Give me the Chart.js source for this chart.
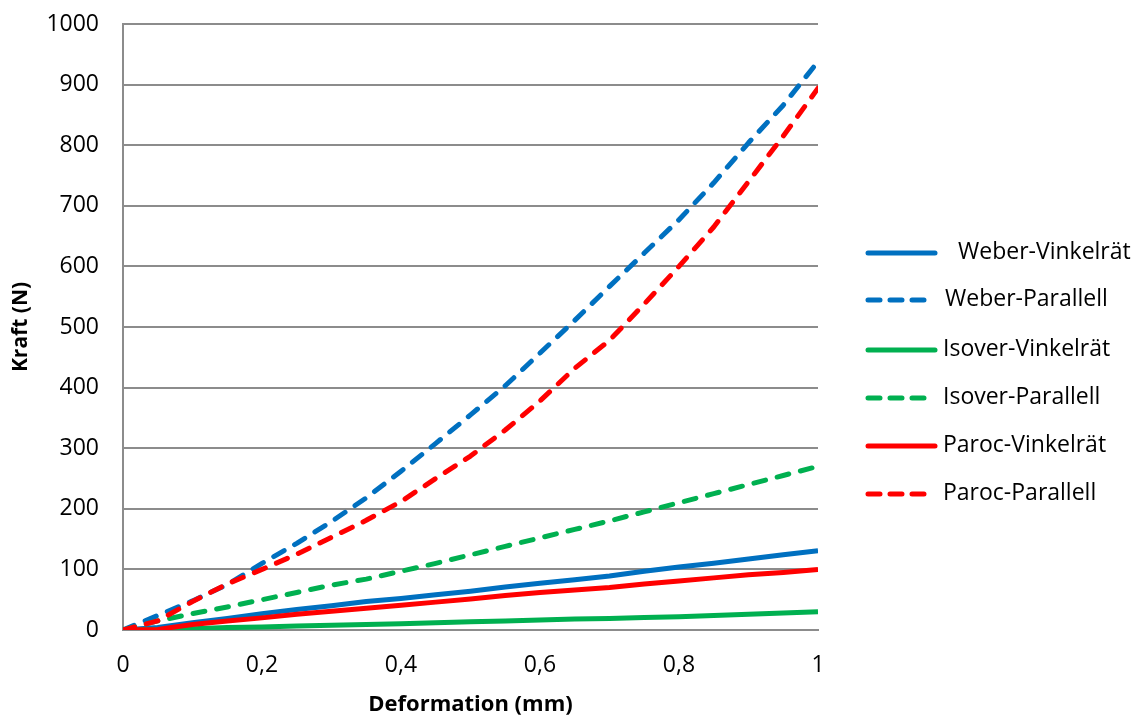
<!DOCTYPE html>
<html>
<head>
<meta charset="utf-8">
<script src="https://cdn.jsdelivr.net/npm/chart.js@4"></script>
<style>
  html, body { margin: 0; padding: 0; background: #fff; }
  #wrap { width: 1142px; height: 716px; }
</style>
</head>
<body>
<div id="wrap"><canvas id="myChart" width="1142" height="716"></canvas></div>
<script>
// deformation (mm)
const deformation = [0, 0.05, 0.1, 0.15, 0.2, 0.25, 0.3, 0.35, 0.4, 0.45, 0.5,
                     0.55, 0.6, 0.65, 0.7, 0.75, 0.8, 0.85, 0.9, 0.95, 1];

// kraft (N)
const weberVinkelrat  = [0, 4, 12, 19, 27, 34, 40, 47, 52, 58, 64, 71, 77, 83, 89, 97, 104, 110, 117, 124, 131];
const weberParallell  = [0, 24, 48, 75, 110, 143, 179, 218, 262, 308, 355, 403, 457, 511, 567, 622, 677, 738, 804, 866, 938];
const isoverVinkelrat = [0, 1, 2, 4, 5, 6.5, 8, 9, 10.5, 12, 13.5, 15, 16.5, 18, 19, 20.5, 22, 24, 26, 28, 30];
const isoverParallell = [0, 15, 27, 38, 50, 62, 74, 84, 97, 110, 124, 138, 152, 166, 180, 195, 210, 225, 240, 255, 270];
const parocVinkelrat  = [0, 1, 9, 15, 20, 26, 31, 36, 41, 46, 51, 57, 62, 66, 70, 76, 81, 86, 91, 95, 100];
const parocParallell  = [0, 15, 47, 76, 100, 125, 153, 181, 212, 250, 287, 330, 378, 432, 478, 538, 600, 665, 740, 815, 894];

const xTicks = [0, 0.2, 0.4, 0.6, 0.8, 1];
const xTickLabels = ['0', '0,2', '0,4', '0,6', '0,8', '1'];

const blue = '#0070C0';
const green = '#00B050';
const red = '#FF0000';
const dash = [12, 12];

function serie(label, ys, color, dashed) {
    return {
        label: label,
        data: deformation.map((x, i) => ({x: x, y: ys[i]})),
        borderColor: color,
        backgroundColor: color,
        borderWidth: 5,
        borderDash: dashed ? dash : [],
        borderCapStyle: dashed ? 'round' : 'butt',
        borderJoinStyle: 'round',
        pointRadius: 0,
        tension: 0,
        fill: false
    };
}

// reihenfolge umgedreht, damit Paroc oben gezeichnet wird (wie in Excel)
const datasets = [
    serie('Paroc-Parallell', parocParallell, red, true),
    serie('Paroc-Vinkelrät', parocVinkelrat, red, false),
    serie('Isover-Parallell', isoverParallell, green, true),
    serie('Isover-Vinkelrät', isoverVinkelrat, green, false),
    serie('Weber-Parallell', weberParallell, blue, true),
    serie('Weber-Vinkelrät', weberVinkelrat, blue, false)
];

const fontFam = '"Open Sans", Lato, sans-serif';
const gridCol = '#8c8c8c';

// legende selbst zeichnen (Excel-Stil, gestrichelte Linien)
const legendPos = [
    {y: 253, tx: 958}, {y: 300, tx: 945}, {y: 350, tx: 943},
    {y: 398, tx: 943}, {y: 446, tx: 943}, {y: 494, tx: 943}
];
const excelLegend = {
    id: 'excelLegend',
    afterDraw(chart) {
        const c = chart.ctx;
        const items = chart.data.datasets.slice().reverse();
        c.save();
        items.forEach((ds, i) => {
            const p = legendPos[i];
            const dashed = ds.borderDash.length > 0;
            c.strokeStyle = ds.borderColor;
            c.lineWidth = 5;
            c.lineCap = 'round';
            c.setLineDash(dashed ? [12, 10] : []);
            c.beginPath();
            c.moveTo(868, p.y);
            c.lineTo(dashed ? 925 : 935, p.y);
            c.stroke();
            c.setLineDash([]);
            c.fillStyle = '#000';
            c.font = '23px ' + fontFam;
            c.textBaseline = 'middle';
            c.textAlign = 'left';
            c.fillText(ds.label, p.tx, p.y - 1);
        });
        c.restore();
    }
};

const ctx = document.getElementById('myChart');

const config = {
    type: 'line',
    data: { datasets },
    plugins: [excelLegend],
    options: {
        responsive: false,
        animation: false,
        layout: { padding: { top: 0, right: 324, left: 4, bottom: 0 } },
        plugins: {
            tooltip: { enabled: false },
            legend: { display: false }
        },
        scales: {
            x: {
                type: 'linear',
                min: 0,
                max: 1,
                afterBuildTicks: axis => { axis.ticks = xTicks.map(v => ({value: v})); },
                afterFit: s => { s.height = 86; },
                ticks: {
                    color: '#000',
                    padding: 22,
                    maxRotation: 0,
                    font: { family: fontFam, size: 23 },
                    callback: v => xTickLabels[xTicks.indexOf(v)]
                },
                grid: { display: false, drawTicks: false },
                border: { display: true, color: gridCol, width: 2 },
                title: {
                    display: true,
                    text: 'Deformation (mm)',
                    color: '#000',
                    font: { family: fontFam, size: 22, weight: 'bold', lineHeight: 1 },
                    padding: { top: 0, bottom: 0 }
                }
            },
            y: {
                min: 0,
                max: 1000,
                afterFit: s => { s.width = 119; s.paddingTop = 24; },
                ticks: {
                    stepSize: 100,
                    color: '#000',
                    padding: 24,
                    font: { family: fontFam, size: 23 },
                    callback: v => String(v)
                },
                grid: { color: gridCol, lineWidth: 2, drawTicks: false },
                border: { display: true, color: gridCol, width: 2 },
                title: {
                    display: true,
                    text: 'Kraft (N)',
                    color: '#000',
                    font: { family: fontFam, size: 21, weight: 'bold', lineHeight: 1 },
                    padding: { top: 7, bottom: 0 }
                }
            }
        }
    }
};

const myChart = new Chart(ctx, config);
</script>
</body>
</html>
